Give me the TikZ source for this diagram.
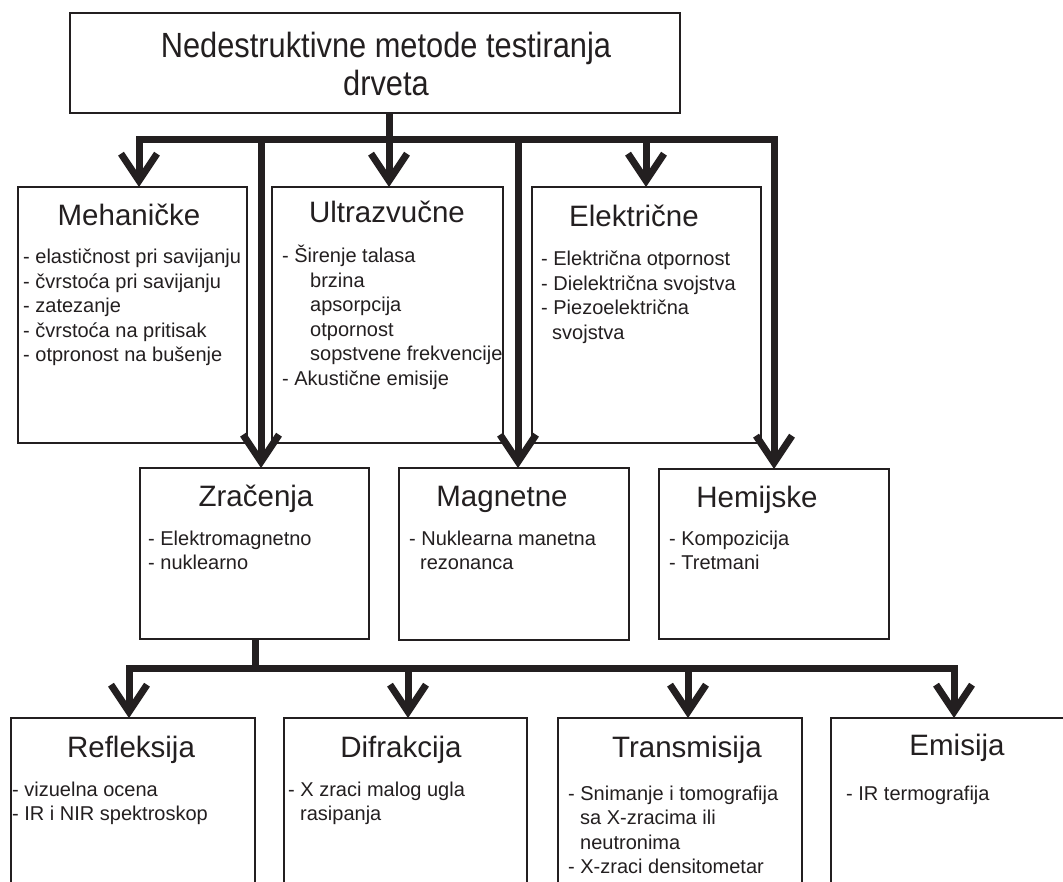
\documentclass[tikz,border=0pt]{standalone}
\usepackage{fontspec}
\setmainfont{Liberation Sans}
\newfontfamily\narrowsans[FakeStretch=0.88]{Liberation Sans}
\usetikzlibrary{arrows.meta}
\definecolor{ink}{HTML}{231F20}
\newcommand\mylines[1]{\begin{tabular}[t]{@{}l@{}}#1\end{tabular}}
\newcommand\mycentre[1]{\begin{tabular}[t]{@{}c@{}}#1\end{tabular}}
\begin{document}
\begin{tikzpicture}[x=1pt,y=-1pt,
  box/.style={draw=ink, line width=1.8pt, inner sep=0pt, outer sep=0pt, anchor=north west},
  ttl/.style={inner sep=0pt, anchor=base, text=ink, font=\fontsize{29.5}{35}\selectfont},
  toptitle/.style={inner sep=0pt, anchor=base, text=ink, font=\narrowsans\fontsize{35}{38}\selectfont},
  bodytxt/.style={inner sep=0pt, anchor=base west, text=ink, font=\fontsize{20}{24.5}\selectfont},
  conn/.style={draw=ink, line width=7pt, line join=miter},
  arr/.style={conn, -{Straight Barb[length=27pt,width=36pt]}}]
\useasboundingbox (0,0) rectangle (1063,882);
\clip (0,0) rectangle (1063,882);
\fill[white] (0,0) rectangle (1063,882);

% boxes
\node[box, minimum width=610pt, minimum height=100pt] (top) at (70,13) {};
\node[box, minimum width=229pt, minimum height=256pt] (meh) at (18,187) {};
\node[box, minimum width=231pt, minimum height=256pt] (ult) at (272,187) {};
\node[box, minimum width=229pt, minimum height=256pt] (ele) at (532,187) {};
\node[box, minimum width=229pt, minimum height=171pt] (zr) at (140,468) {};
\node[box, minimum width=230pt, minimum height=172pt] (mag) at (399,468) {};
\node[box, minimum width=230pt, minimum height=170pt] (hem) at (659,469) {};
\node[box, minimum width=244pt, minimum height=200pt] (ref) at (11,718) {};
\node[box, minimum width=243pt, minimum height=200pt] (dif) at (284,718) {};
\node[box, minimum width=244pt, minimum height=200pt] (tra) at (558,718) {};
\node[box, minimum width=260pt, minimum height=200pt] (emi) at (831,718) {};

% texts
\node[toptitle] (topT) at (386,58) {\mycentre{Nedestruktivne metode testiranja\\drveta}};

\node[ttl] (mehT) at (129,226) {Mehaničke};
\node[bodytxt] (mehB) at (23,264) {\mylines{- elastičnost pri savijanju\\- čvrstoća pri savijanju\\- zatezanje\\- čvrstoća na pritisak\\- otpronost na bušenje}};

\node[ttl] (ultT) at (387,223) {Ultrazvučne};
\node[bodytxt] (ultB) at (282,263) {\mylines{- Širenje talasa\\\hspace*{28pt}brzina\\\hspace*{28pt}apsorpcija\\\hspace*{28pt}otpornost\\\hspace*{28pt}sopstvene frekvencije\\- Akustične emisije}};

\node[ttl] (eleT) at (634,227) {Električne};
\node[bodytxt] (eleB) at (541,266) {\mylines{- Električna otpornost\\- Dielektrična svojstva\\- Piezoelektrična\\\hspace*{11pt}svojstva}};

\node[ttl] (zrT) at (256,506) {Zračenja};
\node[bodytxt] (zrB) at (148,545) {\mylines{- Elektromagnetno\\- nuklearno}};

\node[ttl] (magT) at (502,506) {Magnetne};
\node[bodytxt] (magB) at (409,545) {\mylines{- Nuklearna manetna\\\hspace*{11pt}rezonanca}};

\node[ttl] (hemT) at (757,507) {Hemijske};
\node[bodytxt] (hemB) at (669,545) {\mylines{- Kompozicija\\- Tretmani}};

\node[ttl] (refT) at (131,757) {Refleksija};
\node[bodytxt] (refB) at (12,796) {\mylines{- vizuelna ocena\\- IR i NIR spektroskop}};

\node[ttl] (difT) at (401,757) {Difrakcija};
\node[bodytxt] (difB) at (288,796) {\mylines{- X zraci malog ugla\\\hspace*{12pt}rasipanja}};

\node[ttl] (traT) at (687,757) {Transmisija};
\node[bodytxt] (traB) at (568,800) {\mylines{- Snimanje i tomografija\\\hspace*{12pt}sa X-zracima ili\\\hspace*{12pt}neutronima\\- X-zraci densitometar}};

\node[ttl] (emiT) at (957,755) {Emisija};
\node[bodytxt] (emiB) at (846,800) {\mylines{- IR termografija}};

% connector coordinates
\coordinate (bc) at (389,140);
\coordinate (bL) at (139,140);
\coordinate (bR) at (774,140);
\coordinate (b1) at (261,140);
\coordinate (b2) at (518,140);
\coordinate (bE) at (646,140);

\draw[conn] (top.south -| bc) -- (bc);
\draw[arr] (bc) -- (bL) -- (meh.north -| bL);
\draw[arr] (bc) -- (bR) -- (hem.north -| bR);
\draw[arr] (bc) -- (ult.north -| bc);
\draw[arr] (b1) -- (zr.north -| b1);
\draw[arr] (b2) -- (mag.north -| b2);
\draw[arr] (bE) -- (ele.north -| bE);

\coordinate (d0) at (255.5,668);
\coordinate (dL) at (129,668);
\coordinate (dR) at (954,668);
\coordinate (d2) at (408,668);
\coordinate (d3) at (688,668);

\draw[conn] (zr.south -| d0) -- (d0);
\draw[arr] (d0) -- (dL) -- (ref.north -| dL);
\draw[arr] (d0) -- (dR) -- (emi.north -| dR);
\draw[arr] (d2) -- (dif.north -| d2);
\draw[arr] (d3) -- (tra.north -| d3);
\end{tikzpicture}
\end{document}
